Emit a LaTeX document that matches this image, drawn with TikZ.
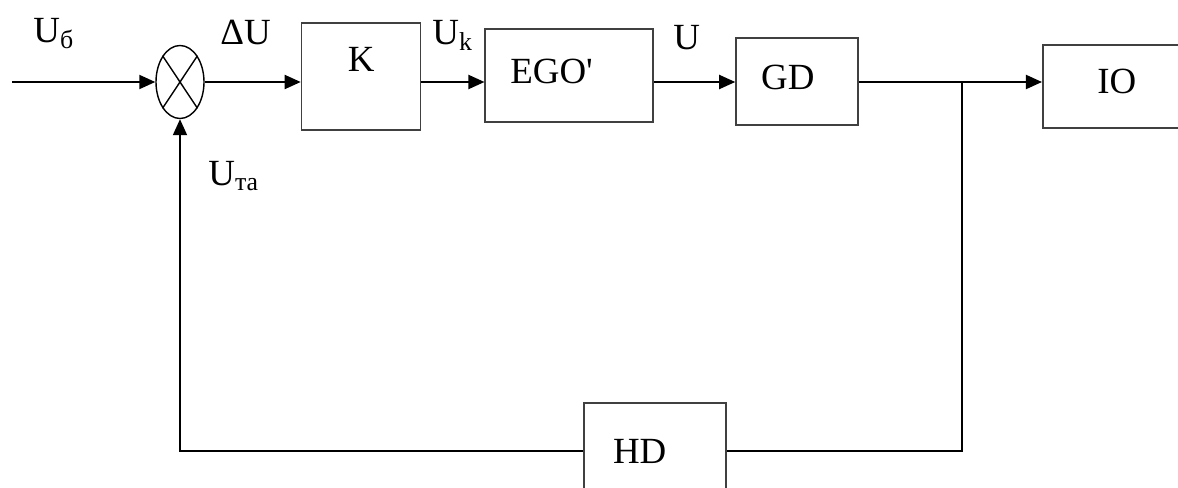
\documentclass[tikz,border=0pt]{standalone}
\usepackage{fontspec}
\setmainfont{Liberation Serif}
\usetikzlibrary{shapes.geometric, arrows.meta, positioning}

\begin{document}
\begin{tikzpicture}[
    every node/.style={font=\fontsize{21}{25}\selectfont},
    blk/.style={draw=black!75, line width=1pt, inner sep=0pt},
    lbl/.style={inner sep=0pt, anchor=base west},
    arrow/.style={-{Triangle[length=0.32cm,width=0.28cm]}, line width=1.1pt},
    wire/.style={line width=1.1pt}
]
    \useasboundingbox (0,0) rectangle (23.56,-9.76);
    \clip (0,0) rectangle (23.56,-9.76);

    % Comparator
    \node[draw, ellipse, line width=0.8pt, minimum width=0.96cm, minimum height=1.46cm, inner sep=0pt] (summer) at (3.6,-1.64) {};
    \draw[line width=0.8pt] (summer.north west) -- (summer.south east) (summer.north east) -- (summer.south west);

    % Forward path
    \node[blk, minimum width=2.38cm, text height=0.98cm, text depth=1.16cm, right=1.92cm of summer, yshift=0.11cm] (gain) {K};
    \node[blk, text width=2.36cm, align=left, inner xsep=0.5cm, text height=1.08cm, text depth=0.78cm, right=1.26cm of gain, yshift=0.02cm] (ego) {EGO\textquotesingle};
    \node[blk, text width=1.44cm, align=left, inner xsep=0.5cm, text height=1.04cm, text depth=0.70cm, right=1.62cm of ego, yshift=-0.12cm] (gd) {GD};
    \node[blk, minimum width=2.96cm, text height=0.98cm, text depth=0.68cm, right=3.66cm of gd, yshift=-0.10cm] (io) {IO};

    % Feedback path
    \node[blk, text width=1.68cm, align=left, inner xsep=0.58cm, text height=1.2cm, text depth=0.72cm] (hd) at (13.1,-9.02) {HD};

    \coordinate (feed_in) at (0.24,-1.64);
    \coordinate (tap) at (19.24,-1.64);

    % Signal labels
    \node[lbl] (u_b) at (0.66,-0.86) {U\textsubscript{б}};
    \node[lbl] (u_d) at (4.40,-0.90) {ΔU};
    \node[lbl] (u_k) at (8.64,-0.90) {U\textsubscript{k}};
    \node[lbl] (u_out) at (13.46,-1.00) {U};
    \node[lbl] (u_ta) at (4.16,-3.70) {U\textsubscript{та}};

    \draw[arrow] (feed_in) -- (summer.west);
    \draw[arrow] (summer.east) -- (summer.east -| gain.west);
    \draw[arrow] (summer -| gain.east) -- (summer -| ego.west);
    \draw[arrow] (summer -| ego.east) -- (summer -| gd.west);
    \draw[arrow] (summer -| gd.east) -- (summer -| io.west);

    \draw[wire] (tap) |- (hd.east);
    \draw[arrow] (hd.west) -| (summer.south);

\end{tikzpicture}
\end{document}
